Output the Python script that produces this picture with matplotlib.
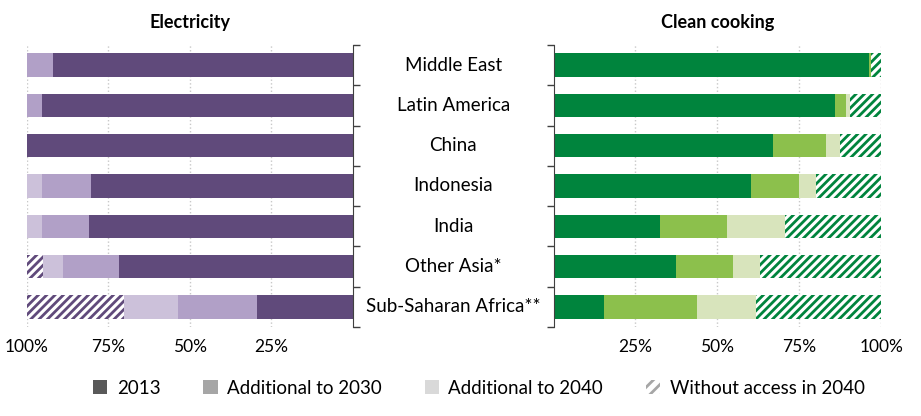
import numpy as np
import matplotlib
matplotlib.use("Agg")
from matplotlib import pyplot as plt
from matplotlib.patches import Patch

plt.rcParams['font.family'] = ['Lato', 'DejaVu Sans']
plt.rcParams['hatch.linewidth'] = 2.0

regions = ['Middle East', 'Latin America', 'China', 'Indonesia', 'India',
           'Other Asia*', 'Sub-Saharan Africa**']

# electricity access shares (%)
elec_2013 = [92, 95.4, 100, 80.4, 81, 71.8, 29.4]
elec_2030 = [8, 4.6, 0, 15, 14.4, 17.2, 24.3]
elec_2040 = [0, 0, 0, 4.6, 4.6, 6, 16.5]
elec_none = [0, 0, 0, 0, 0, 5, 29.8]

# clean cooking access shares (%)
cook_2013 = [96.1, 85.7, 66.8, 60.2, 32.6, 37.5, 15.5]
cook_2030 = [0.7, 3.5, 16.4, 14.8, 20.4, 17.1, 28.4]
cook_2040 = [0, 1.1, 4.2, 5.2, 17.6, 8.4, 18]
cook_none = [3.2, 9.7, 12.6, 19.8, 29.4, 37, 38.1]

purple = ['#604a7b', '#b1a0c7', '#ccc1da', '#604a7b']
green = ['#00843d', '#8cc04c', '#d8e4bc', '#00843d']

fig = plt.figure(figsize=(9.21, 4.16), dpi=100)
ax1 = fig.add_axes([0.029, 0.214, 0.354, 0.678])
ax2 = fig.add_axes([0.601, 0.214, 0.356, 0.678])

y = np.arange(len(regions))


def draw(ax, series, colors):
    left = np.zeros(len(regions))
    for i, vals in enumerate(series):
        vals = np.array(vals)
        if i == 3:
            ax.barh(y, vals, left=left, height=0.58, facecolor='white',
                    edgecolor=colors[i], hatch='////', linewidth=0, zorder=2)
        else:
            ax.barh(y, vals, left=left, height=0.58, color=colors[i],
                    linewidth=0, zorder=2)
        left += vals
    ax.set_ylim(len(regions) - 0.5, -0.5)
    ax.set_yticks(np.arange(len(regions) + 1) - 0.5)
    ax.set_yticklabels([])
    ax.set_xticks([25, 50, 75, 100])
    ax.set_xticklabels(['25%', '50%', '75%', '100%'], fontsize=12.5)
    ax.grid(axis='x', color='#c8c8c8', linestyle=':', linewidth=1, zorder=0)
    for s in ['top', 'bottom', 'left', 'right']:
        ax.spines[s].set_visible(False)
    ax.tick_params(axis='x', length=0, pad=9)


draw(ax1, [elec_2013, elec_2030, elec_2040, elec_none], purple)
ax1.set_xlim(100, 0)
ax1.spines['right'].set_visible(True)
ax1.spines['right'].set_color('#404040')
ax1.yaxis.tick_right()
ax1.tick_params(axis='y', direction='out', length=5, width=1, color='#404040')
ax1.set_title('Electricity', fontweight='bold', fontsize=13, pad=12)

draw(ax2, [cook_2013, cook_2030, cook_2040, cook_none], green)
ax2.set_xlim(0, 100)
ax2.spines['left'].set_visible(True)
ax2.spines['left'].set_color('#404040')
ax2.tick_params(axis='y', direction='out', length=5, width=1, color='#404040')
ax2.set_title('Clean cooking', fontweight='bold', fontsize=13, pad=12)

for i, r in enumerate(regions):
    fig.text(0.492, 0.892 - (i + 0.5) * 0.678 / len(regions), r,
             ha='center', va='center', fontsize=13.5)

handles = [Patch(facecolor='#595959'), Patch(facecolor='#a6a6a6'),
           Patch(facecolor='#d9d9d9'),
           Patch(facecolor='white', edgecolor='#a6a6a6', hatch='///', linewidth=0)]
labels = ['2013', 'Additional to 2030', 'Additional to 2040', 'Without access in 2040']
fig.legend(handles, labels, loc='center', bbox_to_anchor=(0.52, 0.067), ncol=4,
           frameon=False, fontsize=13.5, handlelength=0.75, handleheight=0.75,
           columnspacing=2.3, handletextpad=0.5)

fig.savefig('out.png', dpi=100)
